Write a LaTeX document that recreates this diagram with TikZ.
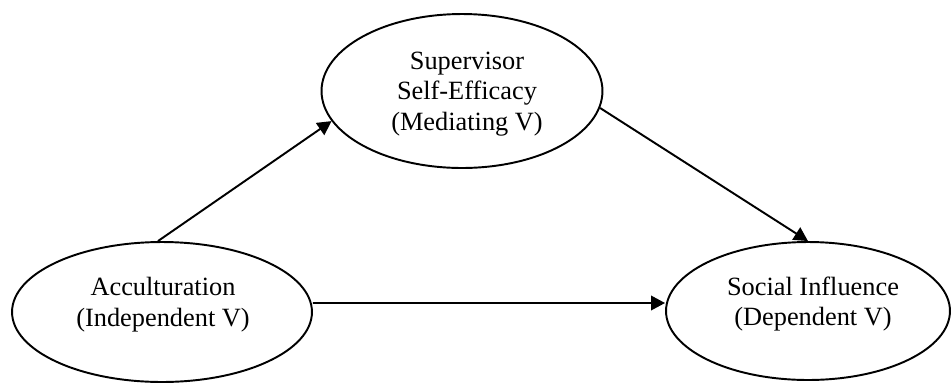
\documentclass[tikz,border=0pt]{standalone}
\usepackage{fontspec}
\setmainfont{Liberation Serif}
\usetikzlibrary{shapes.geometric,arrows.meta}
\begin{document}
\begin{tikzpicture}[x=0.02cm,y=-0.02cm,
  oval/.style={ellipse,draw,line width=1.1pt,inner sep=0pt},
  lbl/.style={align=center,font=\fontsize{15}{17.5}\selectfont,inner sep=0pt},
  arr/.style={line width=1.1pt,-{Triangle[length=0.28cm,width=0.29cm]}}]
\useasboundingbox (0,0) rectangle (951,383);
\node[oval,minimum width=6cm,minimum height=2.8cm] (acc) at (162,312) {};
\node[oval,minimum width=5.62cm,minimum height=3.08cm] (sup) at (462,91) {};
\node[oval,minimum width=5.68cm,minimum height=2.76cm] (soc) at (808,311) {};
\node[lbl] (acct) at (163,305) {Acculturation\\(Independent V)};
\node[lbl] (supt) at (467,94) {Supervisor\\Self-Efficacy\\(Mediating V)};
\node[lbl] (soct) at (813,304) {Social Influence\\(Dependent V)};
\draw[arr] ([xshift=-0.08cm]acc.north) -- (sup.193);
\draw[arr] (sup.353) -- (soc.north);
\draw[arr] ([yshift=0.18cm]acc.east) -- ([yshift=0.16cm]soc.west);
\end{tikzpicture}
\end{document}
